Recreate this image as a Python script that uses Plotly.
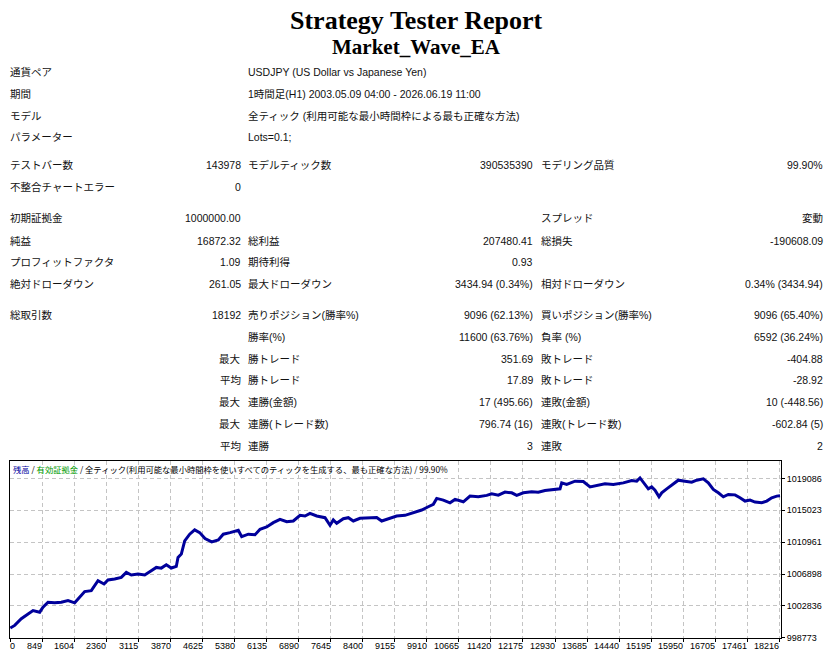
import plotly.graph_objects as go

W, H = 832, 664

# ---------------- data ----------------
title_text = "Strategy Tester Report"
subtitle_text = "Market_Wave_EA"

info_labels = ["通貨ペア", "期間", "モデル", "パラメーター"]
info_values = [
    "USDJPY (US Dollar vs Japanese Yen)",
    "1時間足(H1) 2003.05.09 04:00 - 2026.06.19 11:00",
    "全ティック (利用可能な最小時間枠による最も正確な方法)",
    "Lots=0.1;",
]

stat_labels_1 = ["テストバー数", "不整合チャートエラー", "初期証拠金", "純益", "プロフィットファクタ",
                 "絶対ドローダウン", "総取引数", "", "", "", "", "", ""]
stat_values_1 = ["143978", "0", "1000000.00", "16872.32", "1.09", "261.05", "18192", "",
                 "最大", "平均", "最大", "最大", "平均"]
stat_labels_2 = ["モデルティック数", "", "", "総利益", "期待利得", "最大ドローダウン",
                 "売りポジション(勝率%)", "勝率(%)", "勝トレード", "勝トレード", "連勝(金額)",
                 "連勝(トレード数)", "連勝"]
stat_values_2 = ["390535390", "", "", "207480.41", "0.93", "3434.94 (0.34%)", "9096 (62.13%)",
                 "11600 (63.76%)", "351.69", "17.89", "17 (495.66)", "796.74 (16)", "3"]
stat_labels_3 = ["モデリング品質", "", "スプレッド", "総損失", "", "相対ドローダウン",
                 "買いポジション(勝率%)", "負率 (%)", "敗トレード", "敗トレード", "連敗(金額)",
                 "連敗(トレード数)", "連敗"]
stat_values_3 = ["99.90%", "", "変動", "-190608.09", "", "0.34% (3434.94)", "9096 (65.40%)",
                 "6592 (36.24%)", "-404.88", "-28.92", "10 (-448.56)", "-602.84 (5)", "2"]

trade_no = [0, 104, 260, 418, 537, 695, 773, 891, 1049, 1205,
            1364, 1522, 1640, 1758, 1914, 2073, 2215, 2309, 2467, 2623,
            2742, 2860, 3018, 3177, 3295, 3451, 3569, 3687, 3805, 3923,
            3964, 4042, 4122, 4240, 4358, 4476, 4602, 4760, 4916, 5034,
            5193, 5389, 5469, 5625, 5783, 5902, 6060, 6216, 6374, 6533,
            6689, 6847, 6965, 7083, 7242, 7438, 7556, 7634, 7714, 7870,
            7989, 8107, 8265, 8502, 8660, 8778, 8934, 9132, 9329, 9565,
            9723, 9879, 9998, 10078, 10234, 10392, 10511, 10707, 10865, 11061,
            11260, 11378, 11534, 11692, 11851, 11969, 12125, 12323, 12479, 12638,
            12874, 12992, 13032, 13150, 13347, 13543, 13701, 13859, 14056, 14252,
            14488, 14687, 14805, 14883, 14961, 15079, 15159, 15237, 15332, 15396,
            15514, 15670, 15788, 15946, 16105, 16223, 16379, 16497, 16615, 16734,
            16852, 16970, 17128, 17246, 17365, 17483, 17601, 17759, 17878, 17996,
            18114, 18192]

equity = [1000000, 1000335, 1001185, 1001820, 1002239, 1002023, 1002658, 1003293, 1003217, 1003293,
          1003509, 1003217, 1003928, 1004651, 1004778, 1006048, 1005629, 1006137, 1006264, 1006467,
          1007102, 1006771, 1006898, 1006771, 1007191, 1007736, 1007650, 1008079, 1007660, 1007863,
          1009006, 1009438, 1011126, 1011977, 1012523, 1012180, 1011418, 1010999, 1011253, 1011977,
          1012180, 1012485, 1011672, 1011977, 1011900, 1012612, 1012904, 1013450, 1013881, 1013577,
          1013665, 1014389, 1014300, 1014643, 1014300, 1014084, 1013119, 1013792, 1013373, 1013957,
          1014084, 1013665, 1014008, 1014084, 1014120, 1013665, 1013957, 1014300, 1014389, 1014808,
          1015062, 1015481, 1015786, 1016547, 1016331, 1015989, 1016420, 1016116, 1016839, 1016751,
          1016928, 1017131, 1016967, 1017347, 1017258, 1016928, 1017258, 1017385, 1017347, 1017563,
          1017690, 1017766, 1018528, 1018325, 1018744, 1018700, 1018020, 1018198, 1018401, 1018325,
          1018528, 1018833, 1018744, 1019163, 1018617, 1017766, 1018020, 1017601, 1016751, 1017258,
          1017766, 1018452, 1018871, 1018744, 1018617, 1018871, 1019036, 1018528, 1017690, 1017258,
          1016751, 1017055, 1017000, 1016624, 1016205, 1016331, 1016078, 1015989, 1016205, 1016624,
          1016839, 1016872]

x_tick_labels = ["0", "849", "1604", "2360", "3115", "3870", "4625", "5380", "6135", "6890",
                 "7645", "8400", "9155", "9910", "10665", "11420", "12175", "12930", "13685",
                 "14440", "15195", "15950", "16705", "17461", "18216"]
y_tick_values = [998773, 1002836, 1006898, 1010961, 1015023, 1019086]

chart_legend_parts = ["残高", "有効証拠金",
                      "全ティック(利用可能な最小時間枠を使いすべてのティックを生成する、最も正確な方法)",
                      "99.90%"]

# ---------------- layout helpers ----------------
def px(x):
    return x / W


def py(y):
    return 1 - y / H


FONT = "Liberation Sans, Noto Sans CJK JP, sans-serif"
TXT = "#111111"
FS = 10.5

info_rows_y = [72.7, 94.3, 116.7, 138.3]
stat_rows_y = [166.7, 188.7, 220, 242.7, 264.3, 286, 317.7, 339.3, 361.7, 383.3, 405, 427.7, 449]
c1_label_x, c1_value_r = 10, 241
c2_label_x, c2_value_r = 248, 533
c3_label_x, c3_value_r = 541, 823

annotations = []


def add_text(text, x, y, anchor="left", size=FS, family=FONT, color=TXT, xref="paper"):
    if text == "":
        return
    annotations.append(dict(text=text, x=(px(x) if xref == "paper" else x), y=py(y),
                            xref=xref, yref="paper",
                            xanchor=anchor, yanchor="middle", showarrow=False,
                            borderpad=0, borderwidth=0,
                            font=dict(family=family, size=size, color=color)))


add_text("<b>" + title_text + "</b>", 416, 20.5, "center", 26, "Liberation Serif, serif", "#000000")
add_text("<b>" + subtitle_text + "</b>", 416, 47.5, "center", 21, "Liberation Serif, serif", "#000000")

for lab, val, yy in zip(info_labels, info_values, info_rows_y):
    add_text(lab, c1_label_x, yy)
    add_text(val, c2_label_x, yy)

for i, yy in enumerate(stat_rows_y):
    add_text(stat_labels_1[i], c1_label_x, yy)
    add_text(stat_values_1[i], c1_value_r, yy, "right")
    add_text(stat_labels_2[i], c2_label_x, yy)
    add_text(stat_values_2[i], c2_value_r, yy, "right")
    add_text(stat_labels_3[i], c3_label_x, yy)
    add_text(stat_values_3[i], c3_value_r, yy, "right")

legend_html = (f'<span style="color:#0000a0">{chart_legend_parts[0]}</span> / '
               f'<span style="color:#009a00">{chart_legend_parts[1]}</span> / '
               f'{chart_legend_parts[2]} / {chart_legend_parts[3]}')
add_text(legend_html, 13, 472.5, "left", 8.3, "Noto Sans CJK JP, sans-serif", "#000000")

# ---------------- chart ----------------
plot_left, plot_right = 10, 781
plot_top, plot_bottom = 464.5, 642.5
x_range = [-7, 18215]
y_range = [998773, 1021320]
x_tick_step = 757.3
x_label_y = 650.5
tick_font = "Liberation Sans, sans-serif"

x_tick_vals = [i * x_tick_step for i in range(len(x_tick_labels))]
for i, (tv, tl) in enumerate(zip(x_tick_vals, x_tick_labels)):
    add_text(tl, tv, x_label_y, "left" if i == 0 else "right", 9, tick_font, "#000000", xref="x")

fig = go.Figure()
fig.add_trace(go.Scatter(x=trade_no, y=equity, mode="lines",
                         line=dict(color="#00009b", width=3), hoverinfo="skip",
                         showlegend=False))

axis_common = dict(showgrid=True, gridcolor="#c4c4c4", gridwidth=1, griddash="4px,3px",
                   showline=True, mirror=True, linecolor="#000000", linewidth=1,
                   ticks="outside", ticklen=3, tickcolor="#000000", zeroline=False,
                   tickfont=dict(family=tick_font, size=9, color="#000000"),
                   fixedrange=True)

fig.update_layout(
    width=W, height=H,
    margin=dict(l=0, r=0, t=0, b=0),
    paper_bgcolor="white", plot_bgcolor="white",
    annotations=annotations,
    xaxis=dict(domain=[px(plot_left), px(plot_right)], range=x_range,
               tickvals=x_tick_vals, showticklabels=False, **axis_common),
    yaxis=dict(domain=[py(plot_bottom), py(plot_top)], range=y_range, side="right",
               tickvals=y_tick_values, ticktext=[str(v) for v in y_tick_values],
               **axis_common),
    hovermode=False,
)

fig.write_html("out.html", config={"displayModeBar": False},
               post_script="document.body.style.margin='0';document.body.style.overflow='hidden';")
